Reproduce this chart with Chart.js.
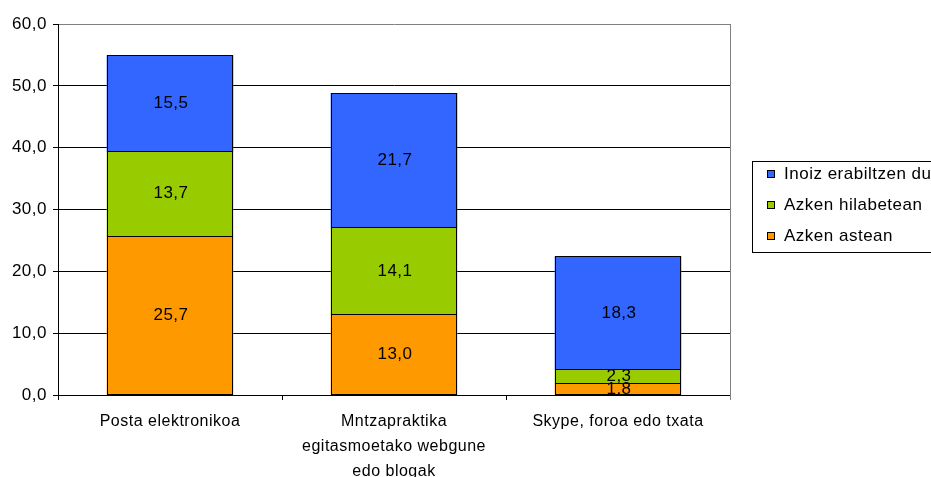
<!DOCTYPE html>
<html>
<head>
<meta charset="utf-8">
<script src="https://cdn.jsdelivr.net/npm/chart.js@4"></script>
<style>
  html, body { margin: 0; padding: 0; background: #fff; overflow: hidden; }
  #wrap { width: 931px; height: 477px; }
</style>
</head>
<body>
<div id="wrap"><canvas id="chart" width="931" height="477"></canvas></div>
<script>
// Datuak
var categories = [
    ['Posta elektronikoa'],
    ['Mntzapraktika', 'egitasmoetako webgune', 'edo blogak'],
    ['Skype, foroa edo txata']
];
var seriesNames = ['Azken astean', 'Azken hilabetean', 'Inoiz erabiltzen dute'];
var seriesColors = ['#FF9900', '#99CC00', '#3366FF'];
var azkenAstean = [25.7, 13.0, 1.8];
var azkenHilabetean = [13.7, 14.1, 2.3];
var inoizErabiltzen = [15.5, 21.7, 18.3];
var yTicks = [0, 10, 20, 30, 40, 50, 60];

var FONT = '"Liberation Sans", Arial, sans-serif';
var SPACING = '0.5px';

function fmt(v) {
    return v.toFixed(1).replace('.', ',');
}

// letter spacing, canvas resize resets it so set before each draw
var spacingPlugin = {
    id: 'spacing',
    beforeDraw: function (chart) {
        chart.ctx.letterSpacing = SPACING;
    }
};

// ertz beltzak + balioak barra bakoitzaren erdian
var valueLabels = {
    id: 'valueLabels',
    afterDatasetsDraw: function (chart) {
        var ctx = chart.ctx;
        ctx.save();
        ctx.strokeStyle = '#000';
        ctx.lineWidth = 1;
        chart.data.datasets.forEach(function (ds, i) {
            chart.getDatasetMeta(i).data.forEach(function (bar) {
                var l = Math.round(bar.x - bar.width / 2) + 0.5;
                var r = Math.round(bar.x + bar.width / 2) - 0.5;
                var t = Math.floor(bar.y) + 0.5;
                var b = Math.floor(bar.base) + 0.5;
                ctx.strokeRect(l, t, r - l, b - t);
            });
        });
        ctx.letterSpacing = SPACING;
        ctx.font = '17px ' + FONT;
        ctx.fillStyle = '#000';
        ctx.textAlign = 'center';
        ctx.textBaseline = 'middle';
        chart.data.datasets.forEach(function (ds, i) {
            chart.getDatasetMeta(i).data.forEach(function (bar, j) {
                ctx.fillText(fmt(ds.data[j]), bar.x + 1, (bar.y + bar.base) / 2);
            });
        });
        ctx.restore();
    }
};

// plot area border (gray) + legenda
var frameAndLegend = {
    id: 'frameAndLegend',
    afterDraw: function (chart) {
        var ctx = chart.ctx;
        var a = chart.chartArea;
        ctx.save();
        ctx.strokeStyle = '#808080';
        ctx.lineWidth = 1;
        ctx.beginPath();
        ctx.moveTo(Math.round(a.right) + 0.5, a.top);
        ctx.lineTo(Math.round(a.right) + 0.5, a.bottom + 5);
        ctx.stroke();

        // legend box
        ctx.strokeStyle = '#000';
        ctx.strokeRect(752.5, 161.5, 300, 91);
        ctx.letterSpacing = SPACING;
        ctx.font = '17px ' + FONT;
        ctx.textBaseline = 'middle';
        ctx.textAlign = 'left';
        var ds = chart.data.datasets.slice().reverse();
        ds.forEach(function (d, i) {
            var cy = 174 + i * 31;
            ctx.fillStyle = d.backgroundColor;
            ctx.fillRect(767.5, cy - 3.5, 7, 7);
            ctx.strokeStyle = '#000';
            ctx.strokeRect(767.5, cy - 3.5, 7, 7);
            ctx.fillStyle = '#000';
            ctx.fillText(d.label, 784, cy);
        });
        ctx.restore();
    }
};

document.addEventListener('DOMContentLoaded', function () {
    var ctx = document.getElementById('chart').getContext('2d');
    var values = [azkenAstean, azkenHilabetean, inoizErabiltzen];

    new Chart(ctx, {
        type: 'bar',
        data: {
            labels: categories,
            datasets: seriesNames.map(function (name, i) {
                return {
                    label: name,
                    data: values[i],
                    backgroundColor: seriesColors[i],
                    borderWidth: 0,
                    barThickness: 126
                };
            })
        },
        options: {
            responsive: false,
            animation: false,
            layout: { padding: { top: 24, right: 201, left: 0, bottom: 0 } },
            plugins: {
                legend: { display: false },
                tooltip: { enabled: false }
            },
            scales: {
                x: {
                    stacked: true,
                    offset: true,
                    grid: {
                        offset: true,
                        drawOnChartArea: false,
                        drawTicks: true,
                        tickLength: 5,
                        color: '#000',
                        tickColor: '#000'
                    },
                    border: { display: true, color: '#000', width: 1 },
                    ticks: {
                        color: '#000',
                        padding: 9,
                        maxRotation: 0,
                        autoSkip: false,
                        font: { family: FONT, size: 16, lineHeight: 1.5625 }
                    },
                    afterFit: function (scale) { scale.height = 82; }
                },
                y: {
                    stacked: true,
                    min: 0,
                    max: 60,
                    afterBuildTicks: function (scale) {
                        scale.ticks = yTicks.map(function (v) { return { value: v }; });
                    },
                    grid: {
                        drawTicks: true,
                        tickLength: 5,
                        color: function (c) { return c.tick && c.tick.value === 60 ? '#808080' : '#000'; },
                        tickColor: '#000'
                    },
                    border: { display: true, color: '#000', width: 1 },
                    ticks: {
                        color: '#000',
                        padding: 6,
                        font: { family: FONT, size: 17 },
                        callback: function (v) { return fmt(v); }
                    },
                    afterFit: function (scale) { scale.width = 58; }
                }
            }
        },
        plugins: [spacingPlugin, valueLabels, frameAndLegend]
    });
});
</script>
</body>
</html>
